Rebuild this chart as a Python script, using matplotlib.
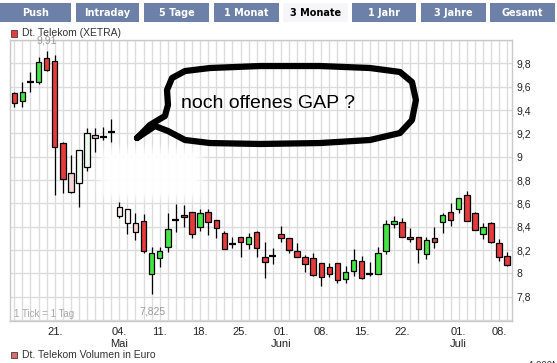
import numpy as np
import matplotlib
matplotlib.use("Agg")
import matplotlib.pyplot as plt
from matplotlib.patches import Rectangle
from matplotlib.ticker import FuncFormatter

# Dt. Telekom (XETRA), daily candles, 3 Monate
opens  = [9.545, 9.48, 9.643, 9.643, 9.843, 9.823, 9.115, 8.858, 8.772, 8.914,
          9.186, 9.171, 9.209, 8.566, 8.549, 8.429, 8.452, 7.992, 8.129, 8.224,
          8.458, 8.50, 8.523, 8.395, 8.523, 8.458, 8.343, 8.252, 8.309, 8.249,
          8.352, 8.143, 8.149, 8.335, 8.30, 8.192, 8.138, 8.129, 8.086, 8.052,
          8.086, 7.952, 8.02, 8.109, 7.992, 7.992, 8.192, 8.421, 8.438, 8.309,
          8.309, 8.163, 8.30, 8.438, 8.523, 8.549, 8.672, 8.514, 8.335, 8.429,
          8.258, 8.149]
highs  = [9.558, 9.643, 9.728, 9.857, 9.91, 9.87, 9.129, 9.015, 9.057, 9.243,
          9.243, 9.252, 9.32, 8.614, 8.549, 8.514, 8.508, 8.229, 8.229, 8.514,
          8.595, 8.586, 8.523, 8.552, 8.552, 8.458, 8.366, 8.315, 8.309, 8.343,
          8.366, 8.272, 8.215, 8.406, 8.30, 8.258, 8.158, 8.172, 8.086, 8.086,
          8.086, 8.063, 8.206, 8.149, 8.095, 8.223, 8.458, 8.494, 8.472, 8.386,
          8.315, 8.309, 8.40, 8.514, 8.606, 8.643, 8.706, 8.529, 8.429, 8.438,
          8.295, 8.186]
lows   = [9.424, 9.43, 9.557, 9.623, 9.737, 8.67, 8.686, 8.686, 8.571, 8.88,
          9.04, 9.143, 9.129, 8.477, 8.335, 8.286, 8.172, 7.825, 8.057, 8.186,
          8.352, 8.40, 8.30, 8.366, 8.329, 8.306, 8.206, 8.215, 8.143, 8.209,
          8.143, 7.958, 8.08, 8.272, 8.172, 8.138, 8.009, 7.98, 7.895, 7.972,
          7.92, 7.915, 7.98, 7.952, 7.98, 7.992, 8.163, 8.392, 8.315, 8.272,
          8.092, 8.123, 8.215, 8.343, 8.406, 8.514, 8.449, 8.372, 8.292, 8.258,
          8.109, 8.063]
closes = [9.46, 9.557, 9.643, 9.809, 9.745, 9.08, 8.806, 8.695, 9.057, 9.20,
          9.158, 9.171, 9.209, 8.494, 8.43, 8.352, 8.192, 8.172, 8.192, 8.378,
          8.458, 8.48, 8.335, 8.514, 8.438, 8.386, 8.206, 8.252, 8.272, 8.315,
          8.215, 8.095, 8.149, 8.30, 8.20, 8.138, 8.078, 7.986, 7.972, 7.992,
          7.943, 8.009, 8.115, 7.963, 7.992, 8.172, 8.421, 8.449, 8.315, 8.292,
          8.206, 8.286, 8.272, 8.50, 8.458, 8.643, 8.449, 8.372, 8.395, 8.266,
          8.138, 8.072]

# x tick labels (candle number -> label)
tick_pos = [6, 14, 19, 24, 29, 34, 39, 44, 49, 56, 61]
tick_lab = ["21.", "04.\nMai", "11.", "18.", "25.", "01.\nJuni", "08.", "15.",
            "22.", "01.\nJuli", "08."]
y_grid = [7.6, 7.8, 8.0, 8.2, 8.4, 8.6, 8.8, 9.0, 9.2, 9.4, 9.6, 9.8, 10.0]

W, H = 557, 363
fig = plt.figure(figsize=(W / 100, H / 100), dpi=100)
fig.patch.set_facecolor("white")

def fx(px):
    return px / W

def fy(py):
    return 1 - py / H

ax = fig.add_axes([fx(10), fy(321), fx(512) - fx(10), fy(40) - fy(321)])

RED = "#e23c3c"
GREEN = "#44e444"
BROWN = "#b0524a"
faded = {8: "#f4d4d4", 9: "#f2fbf2", 10: "#eefaee", 11: "#f0bcbc",
         14: "#fbeeee", 15: "#fdf6f6", 16: "#f6d4d4"}

x = np.arange(1, len(opens) + 1)
o = np.array(opens); h = np.array(highs); l = np.array(lows); c = np.array(closes)

ax.vlines(x, l, h, color="black", lw=0.9, zorder=3)
bw = 0.68
for i in range(len(x)):
    n = i + 1
    if abs(c[i] - o[i]) < 1e-6:
        ax.hlines(o[i], x[i] - 0.42, x[i] + 0.42, color="black", lw=1.6, zorder=4)
        continue
    if c[i] > o[i]:
        col = GREEN
    elif o[i] - c[i] < 0.03:
        col = BROWN
    else:
        col = RED
    col = faded.get(n, col)
    lo = min(o[i], c[i])
    ax.bar(x[i], abs(c[i] - o[i]), bottom=lo, width=bw, color=col,
           edgecolor="black", linewidth=0.9, zorder=4)

# erased (white smear) area near the gap
ny, nx = 60, 120
yy = np.linspace(0, 1, ny)[:, None]
xx = np.linspace(0, 1, nx)[None, :]
def soft(t, e):
    return np.clip(np.minimum(t, 1 - t) / e, 0, 1)
alpha = soft(xx, 0.12) * soft(yy, 0.2) * 0.95
img = np.ones((ny, nx, 4))
img[..., 3] = alpha
ax.imshow(img, extent=(10.7, 25.0, 8.59, 9.12), aspect="auto", zorder=1.5,
          interpolation="bilinear")

ax.set_xlim(0.468, 62.6)
ax.set_ylim(7.592, 10.0)

ax.set_xticks(x, minor=True)
ax.set_xticks(tick_pos)
ax.set_xticklabels(tick_lab, fontsize=8, family="Liberation Sans", color="#222222",
                   linespacing=1.25)
ax.set_yticks(y_grid)
ax.yaxis.set_major_formatter(FuncFormatter(
    lambda v, p: "" if v < 7.7 or v > 9.9 else ("%g" % round(v, 1)).replace(".", ",")))
ax.yaxis.tick_right()
for lab in ax.get_yticklabels():
    lab.set_family("Liberation Sans")
ax.tick_params(axis="y", length=0, pad=3, labelsize=7.5, labelcolor="#222222")
ax.tick_params(axis="x", which="both", length=0, pad=4)
ax.set_axisbelow(True)
ax.grid(True, which="both", color="#dcdcdc", lw=1)
for s in ax.spines.values():
    s.set_color("#c8c8c8")
    s.set_linewidth(1)

# annotations on the chart
ax.text(5, 10.0, "9,91", ha="center", va="center", fontsize=7.5, color="#9a9a9a",
        family="Liberation Sans", zorder=6, clip_on=False)
ax.text(18.1, 7.67, "7,825", ha="center", va="center", fontsize=7.5, color="#9a9a9a",
        family="Liberation Sans", zorder=6)
ax.text(0.95, 7.65, "1 Tick = 1 Tag", ha="left", va="center", fontsize=7,
        color="#a8a8a8", family="Liberation Sans", zorder=6)

# hand drawn speech bubble
bub_x = [16.19, 17.79, 19.65, 20.02, 19.90, 20.52, 22.13, 25.22, 31.41, 38.83,
         45.02, 48.73, 50.22, 50.71, 50.22, 48.73, 45.02, 38.83, 31.41, 25.22,
         22.13, 20.02, 18.41, 16.19]
bub_y = [9.160, 9.272, 9.349, 9.443, 9.572, 9.674, 9.734, 9.760, 9.777, 9.777,
         9.760, 9.726, 9.640, 9.486, 9.314, 9.203, 9.143, 9.117, 9.109, 9.117,
         9.143, 9.220, 9.263, 9.160]
ax.plot(bub_x, bub_y, color="black", lw=4.5, solid_joinstyle="round",
        solid_capstyle="round", zorder=7)
ax.text(21.6, 9.46, "noch offenes GAP ?", ha="left", va="center", fontsize=14,
        family="Liberation Sans", color="black", zorder=8)

# tab bar
tabs = ["Push", "Intraday", "5 Tage", "1 Monat", "3 Monate", "1 Jahr", "3 Jahre", "Gesamt"]
tab_x = [(0, 71), (76, 139), (144, 209), (214, 279), (283, 348), (352, 416),
         (421, 486), (490, 555)]
for name, (a, b) in zip(tabs, tab_x):
    sel = name == "3 Monate"
    fig.add_artist(Rectangle((fx(a), fy(22)), fx(b) - fx(a), fy(3) - fy(22),
                             transform=fig.transFigure,
                             facecolor="#f6f6fa" if sel else "#6d80a8",
                             edgecolor="none"))
    fig.text(fx((a + b) / 2), fy(12.5), name, ha="center", va="center",
             fontsize=7, fontweight="bold", family="DejaVu Sans",
             color="black" if sel else "white")

# legends
fig.add_artist(Rectangle((fx(11), fy(36.5)), fx(6), fx(0) + 6 / H,
                         transform=fig.transFigure, facecolor="#e04040",
                         edgecolor="#553333", lw=0.6))
fig.text(fx(22), fy(33.3), "Dt. Telekom (XETRA)", ha="left", va="center",
         fontsize=7.5, family="Liberation Sans", color="#333333")
fig.add_artist(Rectangle((fx(11), fy(357.5)), fx(6), 6 / H,
                         transform=fig.transFigure, facecolor="#d07070",
                         edgecolor="#553333", lw=0.6))
fig.text(fx(22), fy(354.5), "Dt. Telekom Volumen in Euro", ha="left", va="center",
         fontsize=7.5, family="Liberation Sans", color="#333333")
fig.text(fx(528), fy(366), "1.000M", ha="left", va="center", fontsize=7,
         family="Liberation Sans", color="#333333")

fig.savefig("out.png", dpi=100)
